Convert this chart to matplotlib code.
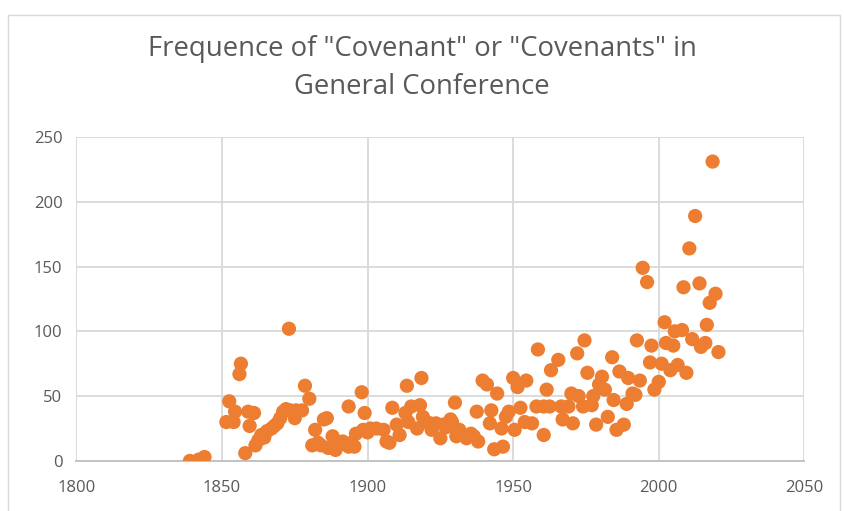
import matplotlib.pyplot as plt
from matplotlib.patches import Rectangle

# ------------------------- data -------------------------
years = [
    1839, 1842, 1844, 1851.5, 1852.5, 1854, 1854.5, 1856, 1856.5, 1858,
    1859, 1859.5, 1861, 1861.5, 1862.5, 1863.5, 1865.5, 1867, 1869, 1871,
    1873, 1873.5, 1875, 1875.5, 1877.5, 1878.5, 1880, 1881, 1882, 1884,
    1885, 1886, 1886.5, 1888, 1889, 1891.5, 1893.5, 1893.5, 1895.5, 1896,
    1898, 1898.5, 1899, 1901, 1903, 1905.5, 1906.5, 1907.5, 1908.5, 1910,
    1911, 1913, 1913.5, 1914, 1915, 1917, 1918, 1918.5, 1919, 1921.5,
    1922, 1923.5, 1925, 1926, 1928.5, 1930, 1930.5, 1931.5, 1934, 1935.5,
    1937.5, 1938, 1939.5, 1941, 1942, 1942.5, 1943.5, 1944.5, 1946, 1946.5,
    1947.5, 1948.5, 1950, 1950.5, 1951.5, 1952.5, 1954, 1954.5, 1956.5, 1958,
    1958.5, 1960.5, 1960.5, 1961.5, 1962.5, 1963, 1965.5, 1966.5, 1967, 1969,
    1970, 1970.5, 1972, 1972.5, 1974, 1974.5, 1975.5, 1977, 1977.5, 1978.5,
    1979.5, 1980.5, 1981.5, 1982.5, 1984, 1984.5, 1985.5, 1986.5, 1988, 1989,
    1989.5, 1991, 1992, 1992.5, 1993.5, 1994.5, 1996, 1997, 1997.5, 1998.5,
    2000, 2001, 2002, 2002.5, 2004, 2005, 2005.5, 2006.5, 2008, 2008.5,
    2009.5, 2010.5, 2011.5, 2012.5, 2014, 2014.5, 2016, 2016.5, 2017.5, 2018.5,
    2019.5, 2020.5,
    # extra points in the dense clusters
    1864.5, 1868, 1870, 1872, 1883, 1890, 1892.5, 1894.5, 1900, 1920,
    1927, 1929, 1932.5, 1936.5,
]
counts = [
    0, 1, 3, 30, 46, 30, 38, 67, 75, 6,
    38, 27, 37, 12, 16, 20, 23, 25, 29, 38,
    102, 39, 33, 39, 39, 58, 48, 12, 24, 12,
    32, 33, 10, 19, 8.5, 15, 11, 42, 11, 21,
    53, 24, 37, 25, 25, 24, 15, 14, 41, 28,
    20, 37, 58, 30, 42, 25, 43, 64, 34, 29,
    24, 29, 17.5, 28, 32, 45, 19, 24, 17.5, 21,
    38, 15, 62, 59, 29, 39, 9, 52, 25, 11,
    34, 38, 64, 24, 57, 41, 30, 62, 29, 42,
    86, 42, 20, 55, 42, 70, 78, 42, 32, 42,
    52, 29, 83, 50, 42, 93, 68, 43, 50, 28,
    59, 65, 55, 34, 80, 47, 24, 69, 28, 44,
    64, 52, 51, 93, 62, 149, 138, 76, 89, 55,
    61, 75, 107, 91, 70, 89, 100, 74, 101, 134,
    68, 164, 94, 189, 137, 88, 91, 105, 122, 231,
    129, 84,
    18, 27, 33, 40, 14, 12, 13, 14, 22, 30,
    26, 30, 20, 19,
]
x_ticks = [1800, 1850, 1900, 1950, 2000, 2050]
y_ticks = [0, 50, 100, 150, 200, 250]

ORANGE = "#ED7D31"
TEXT = "#595959"
GRID = "#D9D9D9"

plt.rcParams['font.family'] = ['Open Sans', 'DejaVu Sans']

fig = plt.figure(figsize=(8.44, 5.11), dpi=100)
ax = fig.add_axes([0.0905, 0.098, 0.8625, 0.634])

ax.scatter(years, counts, s=105, color=ORANGE, edgecolors='none', zorder=3)

ax.set_xlim(1800, 2050)
ax.set_ylim(0, 250)
ax.set_xticks(x_ticks)
ax.set_yticks(y_ticks)
ax.grid(True, color=GRID, linewidth=1.3, zorder=0)
ax.set_axisbelow(True)
for side in ['top', 'right', 'left']:
    ax.spines[side].set_visible(False)
ax.spines['bottom'].set_color('#BFBFBF')
ax.spines['bottom'].set_linewidth(1.3)
ax.tick_params(axis='both', length=0, labelsize=12, labelcolor=TEXT)
ax.tick_params(axis='x', pad=14)
ax.tick_params(axis='y', pad=10)

fig.text(0.5, 0.867, 'Frequence of "Covenant" or "Covenants" in\nGeneral Conference',
         ha='center', va='center', fontsize=19.8, color=TEXT, linespacing=1.5)

# chart area border
fig.patches.append(Rectangle((8 / 844, -0.01), 0.995 - 8 / 844, 1 - 15 / 511 + 0.01,
                             transform=fig.transFigure, fill=False,
                             edgecolor='#D9D9D9', linewidth=1.0))

fig.savefig('out.png', dpi=100)
